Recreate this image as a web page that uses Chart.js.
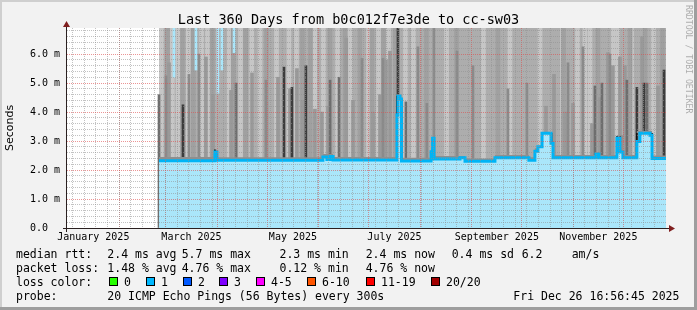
<!DOCTYPE html>
<html><head><meta charset="utf-8">
<script src="https://cdn.jsdelivr.net/npm/chart.js@4/dist/chart.umd.min.js"></script>
<style>html,body{margin:0;padding:0;background:#f2f2f2;overflow:hidden}canvas{display:block}</style>
</head><body>
<canvas id="c" width="697" height="310"></canvas>
<script>
// ---------- data (days since 1 Jan 2025; values in ms) ----------
const titleText = 'Last 360 Days from b0c012f7e3de to cc-sw03';
const yTicks = [0, 1, 2, 3, 4, 5, 6];
const monthStarts = [31, 59, 90, 120, 151, 181, 212, 243, 273, 304, 334];
const monthLabels = ['January 2025', 'March 2025', 'May 2025', 'July 2025', 'September 2025', 'November 2025'];
const monthLabelDays = [15.5, 74.5, 135.5, 196.5, 258, 319];

const medianDays = [55.0, 88.6, 89.8, 153.5, 155.9, 157.8, 159.6, 198.0, 198.6, 199.8, 200.7, 218.5, 219.4, 220.3, 235.9, 238.9, 256.9, 277.3, 280.9, 282.7, 285.2, 290.6, 291.8, 317.6, 319.4, 330.2, 332.0, 333.8, 342.2, 344.0, 350.1, 351.3, 359.7];
const medianVals = [2.32, 2.62, 2.34, 2.45, 2.36, 2.47, 2.35, 3.9, 4.55, 4.45, 2.31, 2.63, 3.1, 2.38, 2.42, 2.30, 2.42, 2.34, 2.65, 2.8, 3.27, 2.92, 2.42, 2.55, 2.42, 3.1, 2.62, 2.42, 2.98, 3.27, 3.2, 2.40, 2.40];

// upper edge of the dense smoke just above the median
const denseSmokeDays = [55.0, 88.6, 89.8, 153.5, 159.6, 198.0, 200.7, 218.5, 220.3, 238.9, 256.9, 277.3, 280.9, 291.8, 317.6, 319.4, 330.2, 333.8, 342.2, 351.3, 359.7];
const denseSmokeVals = [2.45, 2.7, 2.44, 2.55, 2.45, 4.6, 2.42, 2.7, 2.48, 2.40, 2.52, 2.44, 2.75, 2.52, 2.62, 2.52, 3.2, 2.52, 3.35, 2.50, 2.50];

const smokeStart = 55.0, smokeEnd = 359.7, smokeTop = 7;

const lightSmokeDays = [56.4, 63.0, 66.4, 72.6, 80.6, 84.1, 97.2, 104.0, 110.7, 115.7, 125.6, 133.1, 137.6, 148.7, 153.8, 162.3, 169.8, 180.9, 186.9, 192.9, 203.1, 207.9, 227.8, 250.0, 265.9, 284.0, 297.5, 306.5, 311.0, 314.0, 328.1, 330.5, 339.0, 352.2];
const midSmokeDays = [60.1, 69.1, 75.6, 87.1, 99.6, 107.0, 119.6, 141.2, 146.0, 157.8, 166.8, 175.8, 183.0, 189.9, 197.1, 215.7, 233.8, 258.7, 298.1, 318.8, 338.1, 347.1, 357.6];

const paleStreakDays = [61.0, 83.2, 87.4, 98.3, 110.9, 126.5, 133.7, 137.9, 141.2, 148.7, 152.9, 156.6, 167.5, 171.6, 183.6, 187.8, 191.4, 193.8, 287.6, 292.4, 299.0, 303.8, 315.2, 320.0, 324.8, 327.8, 332.0, 335.0, 345.3, 354.9];
const paleStreakTops = [5.7, 5.9, 4.6, 4.75, 5.35, 5.2, 4.8, 5.5, 4.4, 4.1, 4.0, 4.2, 6.55, 4.4, 4.0, 4.6, 5.8, 6.1, 4.2, 5.3, 4.0, 4.3, 3.6, 4.5, 6.05, 5.6, 5.9, 5.6, 6.6, 4.9];
const greyStreakDays = [59.2, 73.0, 79.0, 119.3, 177.0, 189.6, 210.6, 216.0, 220.2, 234.1, 243.7, 264.7, 276.1, 300.8, 309.8, 326.0];
const greyStreakTops = [5.25, 5.3, 6.0, 5.1, 5.85, 5.85, 6.25, 4.3, 7.0, 6.1, 5.6, 4.8, 5.0, 5.7, 6.25, 6.0];
const darkStreakDays = [55.0, 101.3, 157.8, 163.2, 200.4, 203.4, 317.0, 321.2, 336.2, 348.3];
const darkStreakTops = [4.6, 5.0, 5.1, 5.2, 4.3, 4.35, 4.9, 5.0, 5.1, 5.0];
const blackStreakDays = [69.4, 130.1, 134.9, 143.3, 198.6, 342.2, 346.5, 358.5];
const blackStreakTops = [4.25, 5.55, 4.85, 5.6, 7.0, 4.85, 5.0, 5.45];

const cyanStreakDays = [64.0, 77.2, 90.4, 92.8, 100.1];
const cyanStreakLows = [5.2, 5.45, 4.65, 5.45, 6.05];

const edgeDays = [88.6, 198.0, 200.7, 218.5, 219.6, 285.2, 290.9, 330.2, 332.0, 342.2, 351.3];
const edgeLows = [2.34, 2.32, 2.31, 2.33, 2.38, 2.8, 2.42, 2.42, 2.62, 2.42, 2.40];
const edgeHighs = [2.7, 4.55, 4.45, 2.63, 3.12, 3.27, 3.27, 3.15, 3.15, 3.27, 3.27];

const medianStats = ['2.4 ms avg', '5.7 ms max', '2.3 ms min', '2.4 ms now', '0.4 ms sd', '6.2', 'am/s'];
const lossStats = ['1.48 % avg', '4.76 % max', '0.12 % min', '4.76 % now'];
const lossLabels = ['0', '1', '2', '3', '4-5', '6-10', '11-19', '20/20'];
const lossColors = ['#26ff00', '#00b8ff', '#0059ff', '#7e00ff', '#ff00ff', '#ff5500', '#ff0000', '#a10000'];
const probeText = '20 ICMP Echo Pings (56 Bytes) every 300s';
const dateText = 'Fri Dec 26 16:56:45 2025';

// ---------- grid positions ----------
const weekLines = [];
for (let d = 3; d < 360; d += 7) weekLines.push(d);
const minorY = [];
for (let i = 1; i < 35; i++) if (i % 5 !== 0) minorY.push(i / 5);

const mono = '"DejaVu Sans Mono", monospace';
const MGRID = 'rgba(222,79,79,0.6)';
const GRID = 'rgba(143,143,143,0.55)';

function bars(days, lo, hi) {
  return days.map((d, i) => ({ x: d, y: [Array.isArray(lo) ? lo[i] : lo, Array.isArray(hi) ? hi[i] : hi] }));
}

const frame = {
  id: 'frame',
  beforeDraw(chart) {
    const { ctx, chartArea: a, width: W, height: H } = chart;
    ctx.save();
    ctx.fillStyle = '#f2f2f2'; ctx.fillRect(0, 0, W, H);
    ctx.fillStyle = '#cfcfcf'; ctx.fillRect(0, 0, W, 2); ctx.fillRect(0, 0, 2, H);
    ctx.fillStyle = '#9e9e9e'; ctx.fillRect(0, H - 3, W, 3); ctx.fillRect(W - 3, 0, 3, H);
    ctx.fillStyle = '#ffffff'; ctx.fillRect(a.left, a.top, a.right - a.left, a.bottom - a.top);
    ctx.restore();
  },
  afterDraw(chart) {
    const { ctx, chartArea: a } = chart;
    ctx.save();
    // axes
    ctx.fillStyle = '#2a2020';
    ctx.fillRect(a.left - 1, a.top - 2, 1, a.bottom - a.top + 6);
    ctx.fillRect(a.left - 4, a.bottom, a.right - a.left + 7, 1);
    ctx.fillStyle = '#801f1f';
    ctx.beginPath();
    ctx.moveTo(a.left - 4, a.top - 1); ctx.lineTo(a.left - 0.5, a.top - 7); ctx.lineTo(a.left + 3, a.top - 1); ctx.closePath(); ctx.fill();
    ctx.beginPath();
    ctx.moveTo(a.right + 3, a.bottom - 3); ctx.lineTo(a.right + 9, a.bottom + 0.5); ctx.lineTo(a.right + 3, a.bottom + 4); ctx.closePath(); ctx.fill();
    // title
    ctx.fillStyle = '#000';
    ctx.font = '13.5px ' + mono;
    ctx.textAlign = 'center'; ctx.textBaseline = 'alphabetic';
    ctx.fillText(titleText, 348.5, 24);
    // legend
    ctx.font = '11.5px ' + mono;
    ctx.textAlign = 'left';
    const rows = [258, 272, 286, 300];
    ctx.fillText('median rtt:', 16, rows[0]);
    const mx = [107.3, 181.7, 279.5, 365.7, 451.7, 521.7, 571.7];
    medianStats.forEach((t, i) => ctx.fillText(t, mx[i], rows[0]));
    ctx.fillText('packet loss:', 16, rows[1]);
    lossStats.forEach((t, i) => ctx.fillText(t, mx[i], rows[1]));
    ctx.fillText('loss color:', 16, rows[2]);
    const bx = [109, 145.7, 182.7, 219.3, 256, 307, 365.7, 430.7];
    lossLabels.forEach((t, i) => {
      const x = Math.round(bx[i]);
      ctx.fillStyle = '#000'; ctx.fillRect(x, rows[2] - 9, 9, 9);
      ctx.fillStyle = lossColors[i]; ctx.fillRect(x + 1, rows[2] - 8, 7, 7);
      ctx.fillStyle = '#000'; ctx.fillText(t, x + 15, rows[2]);
    });
    ctx.fillText('probe:', 16, rows[3]);
    ctx.fillText(probeText, 107.3, rows[3]);
    ctx.fillText(dateText, 513.3, rows[3]);
    // watermark
    ctx.translate(688, 5);
    ctx.rotate(Math.PI / 2);
    ctx.font = '8.2px ' + mono;
    ctx.fillStyle = 'rgba(0,0,0,0.3)';
    ctx.textBaseline = 'middle';
    ctx.fillText('RRDTOOL / TOBI OETIKER', 0, 0);
    ctx.restore();
  }
};

const xBase = { type: 'linear', min: -0.3, max: 359.7, bounds: 'data', offset: false, position: 'bottom' };

new Chart(document.getElementById('c'), {
  type: 'line',
  data: {
    datasets: [
      { type: 'line', label: 'median', data: medianDays.map((d, i) => ({ x: d, y: medianVals[i] })),
        stepped: 'before', fill: 'origin', backgroundColor: '#aae6fa', borderColor: '#00b4f5', borderWidth: 3,
        pointRadius: 0, order: 0 },
      { type: 'bar', label: 'edges', data: bars(edgeDays, edgeLows, edgeHighs), backgroundColor: '#111',
        barThickness: 1, grouped: false, borderWidth: 0, order: 1 },
      { type: 'line', label: 'dense smoke', data: denseSmokeDays.map((d, i) => ({ x: d, y: denseSmokeVals[i] })),
        stepped: 'before', fill: 'origin', backgroundColor: '#8f8f8f', borderWidth: 0, pointRadius: 0, order: 2 },
      { type: 'bar', label: 'cyan', data: bars(cyanStreakDays, cyanStreakLows, smokeTop), backgroundColor: '#aae6fa',
        barThickness: 2, grouped: false, borderWidth: 0, order: 3 },
      { type: 'bar', label: 'black', data: bars(blackStreakDays, 0, blackStreakTops), backgroundColor: '#3c3c3c',
        barThickness: 2, grouped: false, borderWidth: 0, order: 4 },
      { type: 'bar', label: 'dark', data: bars(darkStreakDays, 0, darkStreakTops), backgroundColor: '#6e6e6e',
        barThickness: 2, grouped: false, borderWidth: 0, order: 5 },
      { type: 'bar', label: 'grey', data: bars(greyStreakDays, 0, greyStreakTops), backgroundColor: '#8a8a8a',
        barThickness: 2, grouped: false, borderWidth: 0, order: 6 },
      { type: 'bar', label: 'pale', data: bars(paleStreakDays, 0, paleStreakTops), backgroundColor: '#999999',
        barThickness: 3, grouped: false, borderWidth: 0, order: 7 },
      { type: 'bar', label: 'mid', data: bars(midSmokeDays, 0, smokeTop), backgroundColor: '#a0a0a0',
        barThickness: 4, grouped: false, borderWidth: 0, order: 8 },
      { type: 'bar', label: 'light', data: bars(lightSmokeDays, 0, smokeTop), backgroundColor: '#c6c6c6',
        barThickness: 4, grouped: false, borderWidth: 0, order: 9 },
      { type: 'line', label: 'smoke', data: [{ x: smokeStart, y: smokeTop }, { x: smokeEnd, y: smokeTop }],
        fill: 'origin', backgroundColor: '#adadad', borderWidth: 0, pointRadius: 0, order: 10 }
    ]
  },
  options: {
    responsive: false, maintainAspectRatio: false, animation: false, devicePixelRatio: 1, events: [],
    layout: { padding: { left: 0, right: 31, top: 28, bottom: 0 } },
    plugins: { legend: { display: false }, tooltip: { enabled: false }, title: { display: false } },
    scales: {
      x: Object.assign({}, xBase, {
        grid: { offset: false, color: MGRID, lineWidth: 1, drawTicks: false, z: 1 },
        border: { display: false, dash: [1, 1] },
        ticks: { display: false },
        afterBuildTicks: s => { s.ticks = monthStarts.map(v => ({ value: v })); },
        afterFit: s => { s.height = 0; }
      }),
      xw: Object.assign({}, xBase, {
        grid: { offset: false, color: GRID, lineWidth: 1, drawTicks: false, z: 1 },
        border: { display: false, dash: [1, 1] },
        ticks: { display: false },
        afterBuildTicks: s => { s.ticks = weekLines.map(v => ({ value: v })); },
        afterFit: s => { s.height = 0; }
      }),
      xl: Object.assign({}, xBase, {
        grid: { display: false, drawTicks: false, offset: false },
        border: { display: false },
        ticks: { autoSkip: false, maxRotation: 0, minRotation: 0, padding: 3, color: '#000',
          font: { family: mono, size: 10 }, callback: (v, i) => monthLabels[i] },
        afterBuildTicks: s => { s.ticks = monthLabelDays.map(v => ({ value: v })); },
        afterFit: s => { s.height = 82; }
      }),
      y: {
        type: 'linear', min: 0, max: 6.9, bounds: 'data', position: 'left',
        grid: { color: c => (c.tick && c.tick.value === 0) ? 'rgba(0,0,0,0)' : MGRID, drawTicks: false, z: 1 },
        border: { display: false, dash: [1, 1] },
        ticks: { padding: 7, color: '#000', font: { family: mono, size: 10 },
          callback: v => v === 0 ? '0.0  ' : v.toFixed(1) + ' m' },
        afterBuildTicks: s => { s.ticks = yTicks.map(v => ({ value: v })); },
        title: { display: true, text: 'Seconds', color: '#000', font: { family: '"DejaVu Sans", sans-serif', size: 11 },
          padding: { top: 4, bottom: 0 } },
        afterFit: s => { s.width = 67; }
      },
      y2: {
        type: 'linear', min: 0, max: 6.9, bounds: 'data', position: 'left',
        grid: { color: GRID, drawTicks: false, z: 1 },
        border: { display: false, dash: [1, 1] },
        ticks: { display: false },
        afterBuildTicks: s => { s.ticks = minorY.map(v => ({ value: v })); },
        afterFit: s => { s.width = 0; }
      }
    }
  },
  plugins: [frame]
});
</script>
</body></html>
